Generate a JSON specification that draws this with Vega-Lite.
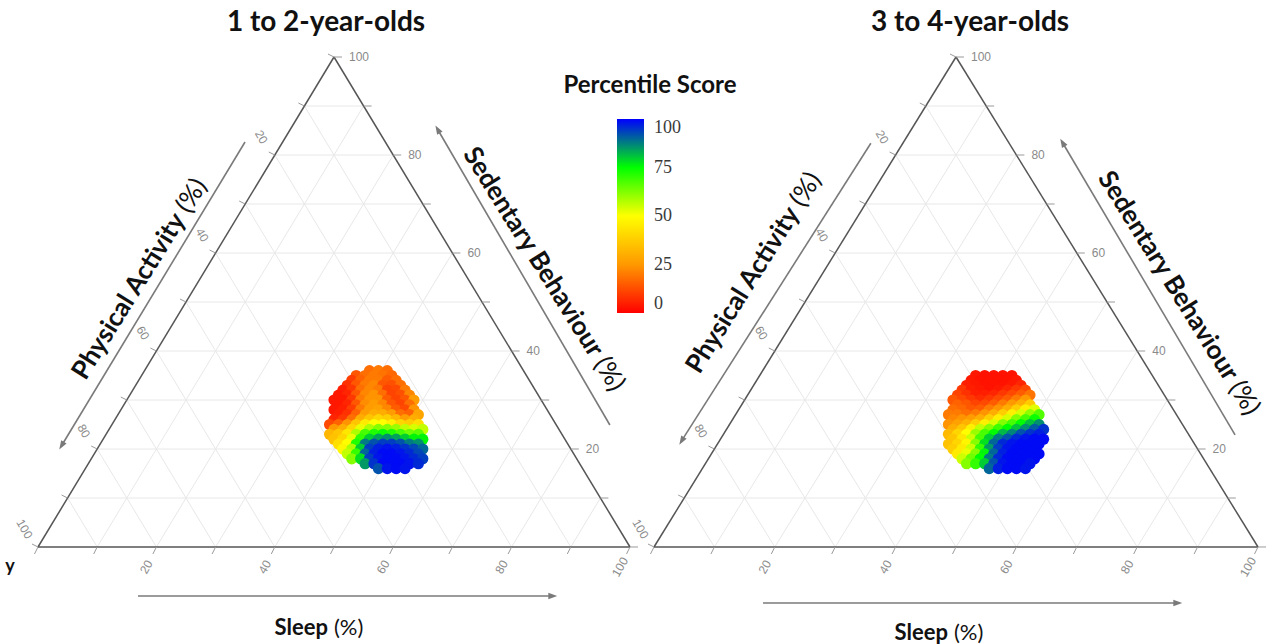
{
  "$schema": "https://vega.github.io/schema/vega-lite/v6.json",
  "padding": 0,
  "bounds": "flush",
  "spacing": 0,
  "background": "white",
  "config": {"view": {"stroke": null}},
  "datasets": {
    "grid": [
      {"x": 5, "y": 10, "x2": 95, "y2": 10}, {"x": 10, "y": 20, "x2": 90, "y2": 20}, {"x": 15, "y": 30, "x2": 85, "y2": 30},
      {"x": 20, "y": 40, "x2": 80, "y2": 40}, {"x": 25, "y": 50, "x2": 75, "y2": 50}, {"x": 30, "y": 60, "x2": 70, "y2": 60},
      {"x": 35, "y": 70, "x2": 65, "y2": 70}, {"x": 40, "y": 80, "x2": 60, "y2": 80}, {"x": 45, "y": 90, "x2": 55, "y2": 90},
      {"x": 10, "y": 0, "x2": 55, "y2": 90}, {"x": 20, "y": 0, "x2": 60, "y2": 80}, {"x": 30, "y": 0, "x2": 65, "y2": 70},
      {"x": 40, "y": 0, "x2": 70, "y2": 60}, {"x": 50, "y": 0, "x2": 75, "y2": 50}, {"x": 60, "y": 0, "x2": 80, "y2": 40},
      {"x": 70, "y": 0, "x2": 85, "y2": 30}, {"x": 80, "y": 0, "x2": 90, "y2": 20}, {"x": 90, "y": 0, "x2": 95, "y2": 10},
      {"x": 45, "y": 90, "x2": 90, "y2": 0}, {"x": 40, "y": 80, "x2": 80, "y2": 0}, {"x": 35, "y": 70, "x2": 70, "y2": 0},
      {"x": 30, "y": 60, "x2": 60, "y2": 0}, {"x": 25, "y": 50, "x2": 50, "y2": 0}, {"x": 20, "y": 40, "x2": 40, "y2": 0},
      {"x": 15, "y": 30, "x2": 30, "y2": 0}, {"x": 10, "y": 20, "x2": 20, "y2": 0}, {"x": 5, "y": 10, "x2": 10, "y2": 0}
    ],
    "edges": [
      {"x": 0, "y": 0, "x2": 100, "y2": 0}, {"x": 0, "y": 0, "x2": 50, "y2": 100}, {"x": 100, "y": 0, "x2": 50, "y2": 100}
    ],
    "ticks": [
      {"a": "b", "x": 0, "y": 0, "t": ""}, {"a": "b", "x": 10, "y": 0, "t": ""}, {"a": "b", "x": 20, "y": 0, "t": "20"},
      {"a": "b", "x": 30, "y": 0, "t": ""}, {"a": "b", "x": 40, "y": 0, "t": "40"}, {"a": "b", "x": 50, "y": 0, "t": ""},
      {"a": "b", "x": 60, "y": 0, "t": "60"}, {"a": "b", "x": 70, "y": 0, "t": ""}, {"a": "b", "x": 80, "y": 0, "t": "80"},
      {"a": "b", "x": 90, "y": 0, "t": ""}, {"a": "b", "x": 100, "y": 0, "t": "100"},
      {"a": "r", "x": 100, "y": 0, "t": ""}, {"a": "r", "x": 95, "y": 10, "t": ""}, {"a": "r", "x": 90, "y": 20, "t": "20"},
      {"a": "r", "x": 85, "y": 30, "t": ""}, {"a": "r", "x": 80, "y": 40, "t": "40"}, {"a": "r", "x": 75, "y": 50, "t": ""},
      {"a": "r", "x": 70, "y": 60, "t": "60"}, {"a": "r", "x": 65, "y": 70, "t": ""}, {"a": "r", "x": 60, "y": 80, "t": "80"},
      {"a": "r", "x": 55, "y": 90, "t": ""}, {"a": "r", "x": 50, "y": 100, "t": "100"},
      {"a": "l", "x": 50, "y": 100, "t": ""}, {"a": "l", "x": 45, "y": 90, "t": ""}, {"a": "l", "x": 40, "y": 80, "t": "20"},
      {"a": "l", "x": 35, "y": 70, "t": ""}, {"a": "l", "x": 30, "y": 60, "t": "40"}, {"a": "l", "x": 25, "y": 50, "t": ""},
      {"a": "l", "x": 20, "y": 40, "t": "60"}, {"a": "l", "x": 15, "y": 30, "t": ""}, {"a": "l", "x": 10, "y": 20, "t": "80"},
      {"a": "l", "x": 5, "y": 10, "t": ""}, {"a": "l", "x": 0, "y": 0, "t": "100"}
    ],
    "arrowsL": [
      {"a": "pa", "x": 34.97, "y": 82.65, "x2": 4.05, "y2": 20.82},
      {"a": "sl", "x": 16.89, "y": -10, "x2": 86.82, "y2": -10},
      {"a": "sb", "x": 67.57, "y": 85.1, "x2": 96.6, "y2": 24.9}
    ],
    "arrowsR": [
      {"a": "pa", "x": 35.9, "y": 82.4, "x2": 4.64, "y2": 21.8},
      {"a": "sl", "x": 18.05, "y": -11.43, "x2": 86.59, "y2": -11.43},
      {"a": "sb", "x": 67.7, "y": 82.4, "x2": 96.2, "y2": 22.9}
    ],
    "txtL": [
      {"r": "title", "t": "1 to 2-year-olds", "x": 48.65, "y": 106.94},
      {"r": "sleep", "t": "Sleep", "x": 49.32, "y": -16.53},
      {"r": "sleepR", "t": "(%)", "x": 49.32, "y": -16.53},
      {"r": "pa", "t": "Physical Activity", "x": 24.07, "y": 67.96},
      {"r": "paR", "t": "(%)", "x": 24.07, "y": 67.96},
      {"r": "sb", "t": "Sedentary Behaviour", "x": 94.6, "y": 38.98},
      {"r": "sbR", "t": "(%)", "x": 94.6, "y": 38.98},
      {"r": "leg", "t": "Percentile Score", "x": 103.38, "y": 94.08},
      {"r": "stray", "t": "y", "x": -4.73, "y": -4.08}
    ],
    "txtR": [
      {"r": "title", "t": "3 to 4-year-olds", "x": 52.32, "y": 106.94},
      {"r": "sleep", "t": "Sleep", "x": 49.0, "y": -17.55},
      {"r": "sleepR", "t": "(%)", "x": 49.0, "y": -17.55},
      {"r": "pa", "t": "Physical Activity", "x": 23.28, "y": 69.24},
      {"r": "paR", "t": "(%)", "x": 23.28, "y": 69.24},
      {"r": "sb", "t": "Sedentary Behaviour", "x": 95.86, "y": 34.08},
      {"r": "sbR", "t": "(%)", "x": 95.86, "y": 34.08}
    ],
    "blobL": [
      {"x": 56, "y": 36, "v": 18}, {"x": 57.5, "y": 36, "v": 20}, {"x": 59, "y": 36, "v": 18},
      {"x": 53.75, "y": 35, "v": 14}, {"x": 55.25, "y": 35, "v": 18}, {"x": 56.75, "y": 35, "v": 20}, {"x": 58.25, "y": 35, "v": 19}, {"x": 59.75, "y": 35, "v": 17},
      {"x": 53, "y": 34, "v": 10}, {"x": 54.5, "y": 34, "v": 16}, {"x": 56, "y": 34, "v": 20}, {"x": 57.5, "y": 34, "v": 20}, {"x": 59, "y": 34, "v": 15}, {"x": 60.5, "y": 34, "v": 18},
      {"x": 52.25, "y": 33, "v": 8}, {"x": 53.75, "y": 33, "v": 14}, {"x": 55.25, "y": 33, "v": 20}, {"x": 56.75, "y": 33, "v": 22}, {"x": 58.25, "y": 33, "v": 14}, {"x": 59.75, "y": 33, "v": 13}, {"x": 61.25, "y": 33, "v": 18},
      {"x": 51.5, "y": 32, "v": 5}, {"x": 53, "y": 32, "v": 9}, {"x": 54.5, "y": 32, "v": 18}, {"x": 56, "y": 32, "v": 22}, {"x": 57.5, "y": 32, "v": 20}, {"x": 59, "y": 32, "v": 11}, {"x": 60.5, "y": 32, "v": 12}, {"x": 62, "y": 32, "v": 20},
      {"x": 50.75, "y": 31, "v": 4}, {"x": 52.25, "y": 31, "v": 6}, {"x": 53.75, "y": 31, "v": 14}, {"x": 55.25, "y": 31, "v": 22}, {"x": 56.75, "y": 31, "v": 24}, {"x": 58.25, "y": 31, "v": 18}, {"x": 59.75, "y": 31, "v": 11}, {"x": 61.25, "y": 31, "v": 13}, {"x": 62.75, "y": 31, "v": 22},
      {"x": 50, "y": 30, "v": 4}, {"x": 51.5, "y": 30, "v": 4}, {"x": 53, "y": 30, "v": 9}, {"x": 54.5, "y": 30, "v": 20}, {"x": 56, "y": 30, "v": 24}, {"x": 57.5, "y": 30, "v": 24}, {"x": 59, "y": 30, "v": 15}, {"x": 60.5, "y": 30, "v": 11}, {"x": 62, "y": 30, "v": 14}, {"x": 63.5, "y": 30, "v": 26},
      {"x": 50.75, "y": 29, "v": 4}, {"x": 52.25, "y": 29, "v": 6}, {"x": 53.75, "y": 29, "v": 14}, {"x": 55.25, "y": 29, "v": 23}, {"x": 56.75, "y": 29, "v": 26}, {"x": 58.25, "y": 29, "v": 22}, {"x": 59.75, "y": 29, "v": 14}, {"x": 61.25, "y": 29, "v": 11}, {"x": 62.75, "y": 29, "v": 18},
      {"x": 50, "y": 28, "v": 4}, {"x": 51.5, "y": 28, "v": 5}, {"x": 53, "y": 28, "v": 10}, {"x": 54.5, "y": 28, "v": 20}, {"x": 56, "y": 28, "v": 26}, {"x": 57.5, "y": 28, "v": 27}, {"x": 59, "y": 28, "v": 22}, {"x": 60.5, "y": 28, "v": 15}, {"x": 62, "y": 28, "v": 12}, {"x": 63.5, "y": 28, "v": 24},
      {"x": 50.75, "y": 27, "v": 5}, {"x": 52.25, "y": 27, "v": 8}, {"x": 53.75, "y": 27, "v": 16}, {"x": 55.25, "y": 27, "v": 26}, {"x": 56.75, "y": 27, "v": 30}, {"x": 58.25, "y": 27, "v": 30}, {"x": 59.75, "y": 27, "v": 26}, {"x": 61.25, "y": 27, "v": 18}, {"x": 62.75, "y": 27, "v": 16}, {"x": 64.25, "y": 27, "v": 28},
      {"x": 50, "y": 26, "v": 6}, {"x": 51.5, "y": 26, "v": 9}, {"x": 53, "y": 26, "v": 18}, {"x": 54.5, "y": 26, "v": 30}, {"x": 56, "y": 26, "v": 36}, {"x": 57.5, "y": 26, "v": 40}, {"x": 59, "y": 26, "v": 38}, {"x": 60.5, "y": 26, "v": 32}, {"x": 62, "y": 26, "v": 26}, {"x": 63.5, "y": 26, "v": 30},
      {"x": 49.25, "y": 25, "v": 12}, {"x": 50.75, "y": 25, "v": 16}, {"x": 52.25, "y": 25, "v": 24}, {"x": 53.75, "y": 25, "v": 36}, {"x": 55.25, "y": 25, "v": 45}, {"x": 56.75, "y": 25, "v": 50}, {"x": 58.25, "y": 25, "v": 50}, {"x": 59.75, "y": 25, "v": 46}, {"x": 61.25, "y": 25, "v": 40}, {"x": 62.75, "y": 25, "v": 38}, {"x": 64.25, "y": 25, "v": 42},
      {"x": 50, "y": 24, "v": 25}, {"x": 51.5, "y": 24, "v": 30}, {"x": 53, "y": 24, "v": 40}, {"x": 54.5, "y": 24, "v": 52}, {"x": 56, "y": 24, "v": 58}, {"x": 57.5, "y": 24, "v": 62}, {"x": 59, "y": 24, "v": 62}, {"x": 60.5, "y": 24, "v": 60}, {"x": 62, "y": 24, "v": 56}, {"x": 63.5, "y": 24, "v": 54}, {"x": 65, "y": 24, "v": 56},
      {"x": 49.25, "y": 23, "v": 32}, {"x": 50.75, "y": 23, "v": 36}, {"x": 52.25, "y": 23, "v": 44}, {"x": 53.75, "y": 23, "v": 58}, {"x": 55.25, "y": 23, "v": 68}, {"x": 56.75, "y": 23, "v": 72}, {"x": 58.25, "y": 23, "v": 74}, {"x": 59.75, "y": 23, "v": 72}, {"x": 61.25, "y": 23, "v": 68}, {"x": 62.75, "y": 23, "v": 64}, {"x": 64.25, "y": 23, "v": 66},
      {"x": 50, "y": 22, "v": 35}, {"x": 51.5, "y": 22, "v": 40}, {"x": 53, "y": 22, "v": 52}, {"x": 54.5, "y": 22, "v": 70}, {"x": 56, "y": 22, "v": 80}, {"x": 57.5, "y": 22, "v": 84}, {"x": 59, "y": 22, "v": 86}, {"x": 60.5, "y": 22, "v": 84}, {"x": 62, "y": 22, "v": 80}, {"x": 63.5, "y": 22, "v": 76}, {"x": 65, "y": 22, "v": 76},
      {"x": 50.75, "y": 21, "v": 42}, {"x": 52.25, "y": 21, "v": 50}, {"x": 53.75, "y": 21, "v": 72}, {"x": 55.25, "y": 21, "v": 88}, {"x": 56.75, "y": 21, "v": 92}, {"x": 58.25, "y": 21, "v": 94}, {"x": 59.75, "y": 21, "v": 94}, {"x": 61.25, "y": 21, "v": 92}, {"x": 62.75, "y": 21, "v": 88}, {"x": 64.25, "y": 21, "v": 86},
      {"x": 51.5, "y": 20, "v": 48}, {"x": 53, "y": 20, "v": 58}, {"x": 54.5, "y": 20, "v": 80}, {"x": 56, "y": 20, "v": 94}, {"x": 57.5, "y": 20, "v": 97}, {"x": 59, "y": 20, "v": 98}, {"x": 60.5, "y": 20, "v": 97}, {"x": 62, "y": 20, "v": 95}, {"x": 63.5, "y": 20, "v": 93}, {"x": 65, "y": 20, "v": 90},
      {"x": 52.25, "y": 19, "v": 56}, {"x": 53.75, "y": 19, "v": 70}, {"x": 55.25, "y": 19, "v": 90}, {"x": 56.75, "y": 19, "v": 97}, {"x": 58.25, "y": 19, "v": 99}, {"x": 59.75, "y": 19, "v": 99}, {"x": 61.25, "y": 19, "v": 98}, {"x": 62.75, "y": 19, "v": 96}, {"x": 64.25, "y": 19, "v": 93},
      {"x": 53, "y": 18, "v": 62}, {"x": 54.5, "y": 18, "v": 78}, {"x": 56, "y": 18, "v": 94}, {"x": 57.5, "y": 18, "v": 98}, {"x": 59, "y": 18, "v": 99}, {"x": 60.5, "y": 18, "v": 99}, {"x": 62, "y": 18, "v": 98}, {"x": 63.5, "y": 18, "v": 96}, {"x": 65, "y": 18, "v": 94},
      {"x": 55.25, "y": 17, "v": 85}, {"x": 56.75, "y": 17, "v": 95}, {"x": 58.25, "y": 17, "v": 99}, {"x": 59.75, "y": 17, "v": 99}, {"x": 61.25, "y": 17, "v": 99}, {"x": 62.75, "y": 17, "v": 98}, {"x": 64.25, "y": 17, "v": 96},
      {"x": 57.5, "y": 16, "v": 92}, {"x": 59, "y": 16, "v": 98}, {"x": 60.5, "y": 16, "v": 99}, {"x": 62, "y": 16, "v": 98}
    ],
    "blobR": [
      {"x": 53.25, "y": 35, "v": 4}, {"x": 54.75, "y": 35, "v": 3}, {"x": 56.25, "y": 35, "v": 3}, {"x": 57.75, "y": 35, "v": 3}, {"x": 59.25, "y": 35, "v": 3},
      {"x": 52.5, "y": 34, "v": 4}, {"x": 54, "y": 34, "v": 3}, {"x": 55.5, "y": 34, "v": 3}, {"x": 57, "y": 34, "v": 3}, {"x": 58.5, "y": 34, "v": 3}, {"x": 60, "y": 34, "v": 4},
      {"x": 51.75, "y": 33, "v": 5}, {"x": 53.25, "y": 33, "v": 4}, {"x": 54.75, "y": 33, "v": 3}, {"x": 56.25, "y": 33, "v": 3}, {"x": 57.75, "y": 33, "v": 3}, {"x": 59.25, "y": 33, "v": 4}, {"x": 60.75, "y": 33, "v": 6},
      {"x": 51, "y": 32, "v": 9}, {"x": 52.5, "y": 32, "v": 5}, {"x": 54, "y": 32, "v": 4}, {"x": 55.5, "y": 32, "v": 3}, {"x": 57, "y": 32, "v": 4}, {"x": 58.5, "y": 32, "v": 6}, {"x": 60, "y": 32, "v": 9}, {"x": 61.5, "y": 32, "v": 12},
      {"x": 50.25, "y": 31, "v": 11}, {"x": 51.75, "y": 31, "v": 8}, {"x": 53.25, "y": 31, "v": 5}, {"x": 54.75, "y": 31, "v": 5}, {"x": 56.25, "y": 31, "v": 6}, {"x": 57.75, "y": 31, "v": 9}, {"x": 59.25, "y": 31, "v": 12}, {"x": 60.75, "y": 31, "v": 15}, {"x": 62.25, "y": 31, "v": 19},
      {"x": 49.5, "y": 30, "v": 14}, {"x": 51, "y": 30, "v": 12}, {"x": 52.5, "y": 30, "v": 9}, {"x": 54, "y": 30, "v": 7}, {"x": 55.5, "y": 30, "v": 9}, {"x": 57, "y": 30, "v": 12}, {"x": 58.5, "y": 30, "v": 15}, {"x": 60, "y": 30, "v": 20}, {"x": 61.5, "y": 30, "v": 25},
      {"x": 50.25, "y": 29, "v": 16}, {"x": 51.75, "y": 29, "v": 14}, {"x": 53.25, "y": 29, "v": 11}, {"x": 54.75, "y": 29, "v": 12}, {"x": 56.25, "y": 29, "v": 15}, {"x": 57.75, "y": 29, "v": 20}, {"x": 59.25, "y": 29, "v": 25}, {"x": 60.75, "y": 29, "v": 30}, {"x": 62.25, "y": 29, "v": 37},
      {"x": 49.5, "y": 28, "v": 18}, {"x": 51, "y": 28, "v": 17}, {"x": 52.5, "y": 28, "v": 14}, {"x": 54, "y": 28, "v": 15}, {"x": 55.5, "y": 28, "v": 20}, {"x": 57, "y": 28, "v": 24}, {"x": 58.5, "y": 28, "v": 30}, {"x": 60, "y": 28, "v": 38}, {"x": 61.5, "y": 28, "v": 46}, {"x": 63, "y": 28, "v": 53},
      {"x": 48.75, "y": 27, "v": 20}, {"x": 50.25, "y": 27, "v": 20}, {"x": 51.75, "y": 27, "v": 18}, {"x": 53.25, "y": 27, "v": 20}, {"x": 54.75, "y": 27, "v": 24}, {"x": 56.25, "y": 27, "v": 30}, {"x": 57.75, "y": 27, "v": 38}, {"x": 59.25, "y": 27, "v": 46}, {"x": 60.75, "y": 27, "v": 54}, {"x": 62.25, "y": 27, "v": 61}, {"x": 63.75, "y": 27, "v": 67},
      {"x": 49.5, "y": 26, "v": 22}, {"x": 51, "y": 26, "v": 24}, {"x": 52.5, "y": 26, "v": 26}, {"x": 54, "y": 26, "v": 30}, {"x": 55.5, "y": 26, "v": 38}, {"x": 57, "y": 26, "v": 46}, {"x": 58.5, "y": 26, "v": 54}, {"x": 60, "y": 26, "v": 62}, {"x": 61.5, "y": 26, "v": 68}, {"x": 63, "y": 26, "v": 74},
      {"x": 48.75, "y": 25, "v": 24}, {"x": 50.25, "y": 25, "v": 27}, {"x": 51.75, "y": 25, "v": 31}, {"x": 53.25, "y": 25, "v": 38}, {"x": 54.75, "y": 25, "v": 46}, {"x": 56.25, "y": 25, "v": 54}, {"x": 57.75, "y": 25, "v": 62}, {"x": 59.25, "y": 25, "v": 68}, {"x": 60.75, "y": 25, "v": 75}, {"x": 62.25, "y": 25, "v": 81}, {"x": 63.75, "y": 25, "v": 86},
      {"x": 49.5, "y": 24, "v": 30}, {"x": 51, "y": 24, "v": 36}, {"x": 52.5, "y": 24, "v": 46}, {"x": 54, "y": 24, "v": 56}, {"x": 55.5, "y": 24, "v": 62}, {"x": 57, "y": 24, "v": 69}, {"x": 58.5, "y": 24, "v": 75}, {"x": 60, "y": 24, "v": 81}, {"x": 61.5, "y": 24, "v": 86}, {"x": 63, "y": 24, "v": 91}, {"x": 64.5, "y": 24, "v": 95},
      {"x": 48.75, "y": 23, "v": 33}, {"x": 50.25, "y": 23, "v": 40}, {"x": 51.75, "y": 23, "v": 50}, {"x": 53.25, "y": 23, "v": 60}, {"x": 54.75, "y": 23, "v": 68}, {"x": 56.25, "y": 23, "v": 75}, {"x": 57.75, "y": 23, "v": 82}, {"x": 59.25, "y": 23, "v": 87}, {"x": 60.75, "y": 23, "v": 92}, {"x": 62.25, "y": 23, "v": 95}, {"x": 63.75, "y": 23, "v": 97},
      {"x": 49.5, "y": 22, "v": 36}, {"x": 51, "y": 22, "v": 44}, {"x": 52.5, "y": 22, "v": 55}, {"x": 54, "y": 22, "v": 68}, {"x": 55.5, "y": 22, "v": 80}, {"x": 57, "y": 22, "v": 88}, {"x": 58.5, "y": 22, "v": 92}, {"x": 60, "y": 22, "v": 96}, {"x": 61.5, "y": 22, "v": 98}, {"x": 63, "y": 22, "v": 99}, {"x": 64.5, "y": 22, "v": 99},
      {"x": 48.75, "y": 21, "v": 35}, {"x": 50.25, "y": 21, "v": 40}, {"x": 51.75, "y": 21, "v": 48}, {"x": 53.25, "y": 21, "v": 62}, {"x": 54.75, "y": 21, "v": 78}, {"x": 56.25, "y": 21, "v": 90}, {"x": 57.75, "y": 21, "v": 96}, {"x": 59.25, "y": 21, "v": 98}, {"x": 60.75, "y": 21, "v": 99}, {"x": 62.25, "y": 21, "v": 99}, {"x": 63.75, "y": 21, "v": 99},
      {"x": 49.5, "y": 20, "v": 38}, {"x": 51, "y": 20, "v": 45}, {"x": 52.5, "y": 20, "v": 55}, {"x": 54, "y": 20, "v": 70}, {"x": 55.5, "y": 20, "v": 85}, {"x": 57, "y": 20, "v": 94}, {"x": 58.5, "y": 20, "v": 98}, {"x": 60, "y": 20, "v": 99}, {"x": 61.5, "y": 20, "v": 99}, {"x": 63, "y": 20, "v": 99},
      {"x": 50.25, "y": 19, "v": 45}, {"x": 51.75, "y": 19, "v": 52}, {"x": 53.25, "y": 19, "v": 62}, {"x": 54.75, "y": 19, "v": 76}, {"x": 56.25, "y": 19, "v": 90}, {"x": 57.75, "y": 19, "v": 97}, {"x": 59.25, "y": 19, "v": 99}, {"x": 60.75, "y": 19, "v": 99}, {"x": 62.25, "y": 19, "v": 99}, {"x": 63.75, "y": 19, "v": 99},
      {"x": 51, "y": 18, "v": 55}, {"x": 52.5, "y": 18, "v": 64}, {"x": 54, "y": 18, "v": 75}, {"x": 55.5, "y": 18, "v": 88}, {"x": 57, "y": 18, "v": 96}, {"x": 58.5, "y": 18, "v": 99}, {"x": 60, "y": 18, "v": 99}, {"x": 61.5, "y": 18, "v": 99}, {"x": 63, "y": 18, "v": 99},
      {"x": 51.75, "y": 17, "v": 62}, {"x": 53.25, "y": 17, "v": 70}, {"x": 54.75, "y": 17, "v": 80}, {"x": 56.25, "y": 17, "v": 92}, {"x": 57.75, "y": 17, "v": 98}, {"x": 59.25, "y": 17, "v": 99}, {"x": 60.75, "y": 17, "v": 99}, {"x": 62.25, "y": 17, "v": 98},
      {"x": 55.5, "y": 16, "v": 90}, {"x": 57, "y": 16, "v": 97}, {"x": 58.5, "y": 16, "v": 99}, {"x": 60, "y": 16, "v": 99}, {"x": 61.5, "y": 16, "v": 98}
    ]
  },
  "resolve": {"scale": {"x": "independent", "y": "independent", "color": "shared"}},
  "hconcat": [
    {
      "width": 642,
      "height": 644,
      "encoding": {
        "x": {"field": "x", "type": "quantitative", "scale": {"domain": [-6.419, 102.027], "nice": false, "zero": false}, "axis": null},
        "y": {"field": "y", "type": "quantitative", "scale": {"domain": [-19.796, 111.633], "nice": false, "zero": false}, "axis": null}
      },
      "layer": [
        {"data": {"name": "grid"}, "mark": {"type": "rule", "color": "#e8e8e8", "strokeWidth": 1}, "encoding": {"x2": {"field": "x2"}, "y2": {"field": "y2"}}},
        {"data": {"name": "blobL"}, "mark": {"type": "circle", "size": 125, "opacity": 1},
         "encoding": {"color": {"field": "v", "type": "quantitative",
           "scale": {"domain": [0, 25, 50, 75, 100], "range": ["#ff0000", "#ff9900", "#ffff00", "#00ff00", "#0000ff"], "interpolate": "rgb"},
           "legend": {"title": null, "orient": "none", "legendX": 617, "legendY": 119, "direction": "vertical", "gradientLength": 194, "gradientThickness": 27, "gradientStrokeWidth": 0, "values": [0, 25, 50, 75, 100], "labelFont": "Liberation Sans Narrow", "labelFontSize": 18, "labelColor": "#3a3a3a", "labelOffset": 10, "padding": 0}}}},
        {"data": {"name": "edges"}, "mark": {"type": "rule", "color": "#555555", "strokeWidth": 1.5}, "encoding": {"x2": {"field": "x2"}, "y2": {"field": "y2"}}},
        {"data": {"name": "ticks"}, "transform": [{"filter": "datum.a == 'b'"}], "mark": {"type": "rule", "color": "#9a9a9a", "strokeWidth": 1, "x2Offset": -3.5, "y2Offset": 7}, "encoding": {"x2": {"field": "x"}, "y2": {"field": "y"}}},
        {"data": {"name": "ticks"}, "transform": [{"filter": "datum.a == 'r'"}], "mark": {"type": "rule", "color": "#9a9a9a", "strokeWidth": 1, "x2Offset": 8, "y2Offset": 0}, "encoding": {"x2": {"field": "x"}, "y2": {"field": "y"}}},
        {"data": {"name": "ticks"}, "transform": [{"filter": "datum.a == 'l'"}], "mark": {"type": "rule", "color": "#9a9a9a", "strokeWidth": 1, "x2Offset": -6, "y2Offset": -3}, "encoding": {"x2": {"field": "x"}, "y2": {"field": "y"}}},
        {"data": {"name": "ticks"}, "transform": [{"filter": "datum.a == 'b'"}], "mark": {"type": "text", "font": "Liberation Sans", "fontSize": 12, "color": "#8a8a8a", "angle": 300, "align": "center", "baseline": "middle", "xOffset": -10, "yOffset": 20}, "encoding": {"text": {"field": "t"}}},
        {"data": {"name": "ticks"}, "transform": [{"filter": "datum.a == 'r'"}], "mark": {"type": "text", "font": "Liberation Sans", "fontSize": 12, "color": "#8a8a8a", "align": "left", "baseline": "middle", "xOffset": 15}, "encoding": {"text": {"field": "t"}}},
        {"data": {"name": "ticks"}, "transform": [{"filter": "datum.a == 'l'"}], "mark": {"type": "text", "font": "Liberation Sans", "fontSize": 12, "color": "#8a8a8a", "angle": 60, "align": "center", "baseline": "middle", "xOffset": -13.5, "yOffset": -18}, "encoding": {"text": {"field": "t"}}},
        {"data": {"name": "arrowsL"}, "mark": {"type": "rule", "color": "#7a7a7a", "strokeWidth": 1.6}, "encoding": {"x2": {"field": "x2"}, "y2": {"field": "y2"}}},
        {"data": {"name": "arrowsL"}, "transform": [{"filter": "datum.a == 'pa'"}], "mark": {"type": "point", "shape": "M0,-1L0.6,0.7L-0.6,0.7Z", "filled": true, "opacity": 1, "color": "#7a7a7a", "size": 110, "angle": 211},
         "encoding": {"x": {"field": "x2", "type": "quantitative", "scale": {"domain": [-6.419, 102.027], "nice": false, "zero": false}, "axis": null}, "y": {"field": "y2", "type": "quantitative", "scale": {"domain": [-19.796, 111.633], "nice": false, "zero": false}, "axis": null}}},
        {"data": {"name": "arrowsL"}, "transform": [{"filter": "datum.a == 'sl'"}], "mark": {"type": "point", "shape": "M0,-1L0.6,0.7L-0.6,0.7Z", "filled": true, "opacity": 1, "color": "#7a7a7a", "size": 110, "angle": 90},
         "encoding": {"x": {"field": "x2", "type": "quantitative", "scale": {"domain": [-6.419, 102.027], "nice": false, "zero": false}, "axis": null}, "y": {"field": "y2", "type": "quantitative", "scale": {"domain": [-19.796, 111.633], "nice": false, "zero": false}, "axis": null}}},
        {"data": {"name": "arrowsL"}, "transform": [{"filter": "datum.a == 'sb'"}], "mark": {"type": "point", "shape": "M0,-1L0.6,0.7L-0.6,0.7Z", "filled": true, "opacity": 1, "color": "#7a7a7a", "size": 110, "angle": 330}},
        {"data": {"name": "txtL"}, "transform": [{"filter": "datum.r == 'title'"}], "mark": {"type": "text", "font": "Lato", "fontWeight": "bold", "fontSize": 28, "color": "#111111", "align": "center", "baseline": "middle"}, "encoding": {"text": {"field": "t"}}},
        {"data": {"name": "txtL"}, "transform": [{"filter": "datum.r == 'leg'"}], "mark": {"type": "text", "font": "Lato", "fontWeight": "bold", "fontSize": 24, "color": "#111111", "align": "center", "baseline": "middle"}, "encoding": {"text": {"field": "t"}}},
        {"data": {"name": "txtL"}, "transform": [{"filter": "datum.r == 'stray'"}], "mark": {"type": "text", "font": "Lato", "fontWeight": "bold", "fontSize": 18, "color": "#111111", "align": "center", "baseline": "middle"}, "encoding": {"text": {"field": "t"}}},
        {"data": {"name": "txtL"}, "transform": [{"filter": "datum.r == 'sleep'"}], "mark": {"type": "text", "font": "Lato", "fontWeight": "bold", "fontSize": 22, "color": "#111111", "align": "right", "baseline": "middle", "dx": -2}, "encoding": {"text": {"field": "t"}}},
        {"data": {"name": "txtL"}, "transform": [{"filter": "datum.r == 'sleepR'"}], "mark": {"type": "text", "font": "Lato", "fontSize": 22, "color": "#111111", "align": "left", "baseline": "middle", "dx": 4}, "encoding": {"text": {"field": "t"}}},
        {"data": {"name": "txtL"}, "transform": [{"filter": "datum.r == 'pa'"}], "mark": {"type": "text", "font": "Lato", "fontWeight": "bold", "fontSize": 26, "color": "#111111", "align": "right", "baseline": "middle", "angle": 302, "dx": -2}, "encoding": {"text": {"field": "t"}}},
        {"data": {"name": "txtL"}, "transform": [{"filter": "datum.r == 'paR'"}], "mark": {"type": "text", "font": "Lato", "fontSize": 26, "color": "#111111", "align": "left", "baseline": "middle", "angle": 302, "dx": 4}, "encoding": {"text": {"field": "t"}}},
        {"data": {"name": "txtL"}, "transform": [{"filter": "datum.r == 'sb'"}], "mark": {"type": "text", "font": "Lato", "fontWeight": "bold", "fontSize": 26, "color": "#111111", "align": "right", "baseline": "middle", "angle": 58, "dx": -2}, "encoding": {"text": {"field": "t"}}},
        {"data": {"name": "txtL"}, "transform": [{"filter": "datum.r == 'sbR'"}], "mark": {"type": "text", "font": "Lato", "fontSize": 26, "color": "#111111", "align": "left", "baseline": "middle", "angle": 58, "dx": 4}, "encoding": {"text": {"field": "t"}}}
      ]
    },
    {
      "width": 629,
      "height": 644,
      "encoding": {
        "x": {"field": "x", "type": "quantitative", "scale": {"domain": [-1.987, 102.152], "nice": false, "zero": false}, "axis": null},
        "y": {"field": "y", "type": "quantitative", "scale": {"domain": [-19.796, 111.633], "nice": false, "zero": false}, "axis": null}
      },
      "layer": [
        {"data": {"name": "grid"}, "mark": {"type": "rule", "color": "#e8e8e8", "strokeWidth": 1}, "encoding": {"x2": {"field": "x2"}, "y2": {"field": "y2"}}},
        {"data": {"name": "blobR"}, "mark": {"type": "circle", "size": 125, "opacity": 1},
         "encoding": {"color": {"field": "v", "type": "quantitative",
           "scale": {"domain": [0, 25, 50, 75, 100], "range": ["#ff0000", "#ff9900", "#ffff00", "#00ff00", "#0000ff"], "interpolate": "rgb"},
           "legend": {"title": null, "orient": "none", "legendX": 617, "legendY": 119, "direction": "vertical", "gradientLength": 194, "gradientThickness": 27, "gradientStrokeWidth": 0, "values": [0, 25, 50, 75, 100], "labelFont": "Liberation Sans Narrow", "labelFontSize": 18, "labelColor": "#3a3a3a", "labelOffset": 10, "padding": 0}}}},
        {"data": {"name": "edges"}, "mark": {"type": "rule", "color": "#555555", "strokeWidth": 1.5}, "encoding": {"x2": {"field": "x2"}, "y2": {"field": "y2"}}},
        {"data": {"name": "ticks"}, "transform": [{"filter": "datum.a == 'b'"}], "mark": {"type": "rule", "color": "#9a9a9a", "strokeWidth": 1, "x2Offset": -3.5, "y2Offset": 7}, "encoding": {"x2": {"field": "x"}, "y2": {"field": "y"}}},
        {"data": {"name": "ticks"}, "transform": [{"filter": "datum.a == 'r'"}], "mark": {"type": "rule", "color": "#9a9a9a", "strokeWidth": 1, "x2Offset": 8, "y2Offset": 0}, "encoding": {"x2": {"field": "x"}, "y2": {"field": "y"}}},
        {"data": {"name": "ticks"}, "transform": [{"filter": "datum.a == 'l'"}], "mark": {"type": "rule", "color": "#9a9a9a", "strokeWidth": 1, "x2Offset": -6, "y2Offset": -3}, "encoding": {"x2": {"field": "x"}, "y2": {"field": "y"}}},
        {"data": {"name": "ticks"}, "transform": [{"filter": "datum.a == 'b'"}], "mark": {"type": "text", "font": "Liberation Sans", "fontSize": 12, "color": "#8a8a8a", "angle": 300, "align": "center", "baseline": "middle", "xOffset": -10, "yOffset": 20}, "encoding": {"text": {"field": "t"}}},
        {"data": {"name": "ticks"}, "transform": [{"filter": "datum.a == 'r'"}], "mark": {"type": "text", "font": "Liberation Sans", "fontSize": 12, "color": "#8a8a8a", "align": "left", "baseline": "middle", "xOffset": 15}, "encoding": {"text": {"field": "t"}}},
        {"data": {"name": "ticks"}, "transform": [{"filter": "datum.a == 'l'"}], "mark": {"type": "text", "font": "Liberation Sans", "fontSize": 12, "color": "#8a8a8a", "angle": 60, "align": "center", "baseline": "middle", "xOffset": -13.5, "yOffset": -18}, "encoding": {"text": {"field": "t"}}},
        {"data": {"name": "arrowsR"}, "mark": {"type": "rule", "color": "#7a7a7a", "strokeWidth": 1.6}, "encoding": {"x2": {"field": "x2"}, "y2": {"field": "y2"}}},
        {"data": {"name": "arrowsR"}, "transform": [{"filter": "datum.a == 'pa'"}], "mark": {"type": "point", "shape": "M0,-1L0.6,0.7L-0.6,0.7Z", "filled": true, "opacity": 1, "color": "#7a7a7a", "size": 110, "angle": 211},
         "encoding": {"x": {"field": "x2", "type": "quantitative", "scale": {"domain": [-1.987, 102.152], "nice": false, "zero": false}, "axis": null}, "y": {"field": "y2", "type": "quantitative", "scale": {"domain": [-19.796, 111.633], "nice": false, "zero": false}, "axis": null}}},
        {"data": {"name": "arrowsR"}, "transform": [{"filter": "datum.a == 'sl'"}], "mark": {"type": "point", "shape": "M0,-1L0.6,0.7L-0.6,0.7Z", "filled": true, "opacity": 1, "color": "#7a7a7a", "size": 110, "angle": 90},
         "encoding": {"x": {"field": "x2", "type": "quantitative", "scale": {"domain": [-1.987, 102.152], "nice": false, "zero": false}, "axis": null}, "y": {"field": "y2", "type": "quantitative", "scale": {"domain": [-19.796, 111.633], "nice": false, "zero": false}, "axis": null}}},
        {"data": {"name": "arrowsR"}, "transform": [{"filter": "datum.a == 'sb'"}], "mark": {"type": "point", "shape": "M0,-1L0.6,0.7L-0.6,0.7Z", "filled": true, "opacity": 1, "color": "#7a7a7a", "size": 110, "angle": 330}},
        {"data": {"name": "txtR"}, "transform": [{"filter": "datum.r == 'title'"}], "mark": {"type": "text", "font": "Lato", "fontWeight": "bold", "fontSize": 28, "color": "#111111", "align": "center", "baseline": "middle"}, "encoding": {"text": {"field": "t"}}},
        {"data": {"name": "txtR"}, "transform": [{"filter": "datum.r == 'sleep'"}], "mark": {"type": "text", "font": "Lato", "fontWeight": "bold", "fontSize": 22, "color": "#111111", "align": "right", "baseline": "middle", "dx": -2}, "encoding": {"text": {"field": "t"}}},
        {"data": {"name": "txtR"}, "transform": [{"filter": "datum.r == 'sleepR'"}], "mark": {"type": "text", "font": "Lato", "fontSize": 22, "color": "#111111", "align": "left", "baseline": "middle", "dx": 4}, "encoding": {"text": {"field": "t"}}},
        {"data": {"name": "txtR"}, "transform": [{"filter": "datum.r == 'pa'"}], "mark": {"type": "text", "font": "Lato", "fontWeight": "bold", "fontSize": 26, "color": "#111111", "align": "right", "baseline": "middle", "angle": 302, "dx": -2}, "encoding": {"text": {"field": "t"}}},
        {"data": {"name": "txtR"}, "transform": [{"filter": "datum.r == 'paR'"}], "mark": {"type": "text", "font": "Lato", "fontSize": 26, "color": "#111111", "align": "left", "baseline": "middle", "angle": 302, "dx": 4}, "encoding": {"text": {"field": "t"}}},
        {"data": {"name": "txtR"}, "transform": [{"filter": "datum.r == 'sb'"}], "mark": {"type": "text", "font": "Lato", "fontWeight": "bold", "fontSize": 26, "color": "#111111", "align": "right", "baseline": "middle", "angle": 58, "dx": -2}, "encoding": {"text": {"field": "t"}}},
        {"data": {"name": "txtR"}, "transform": [{"filter": "datum.r == 'sbR'"}], "mark": {"type": "text", "font": "Lato", "fontSize": 26, "color": "#111111", "align": "left", "baseline": "middle", "angle": 58, "dx": 4}, "encoding": {"text": {"field": "t"}}}
      ]
    }
  ]
}
